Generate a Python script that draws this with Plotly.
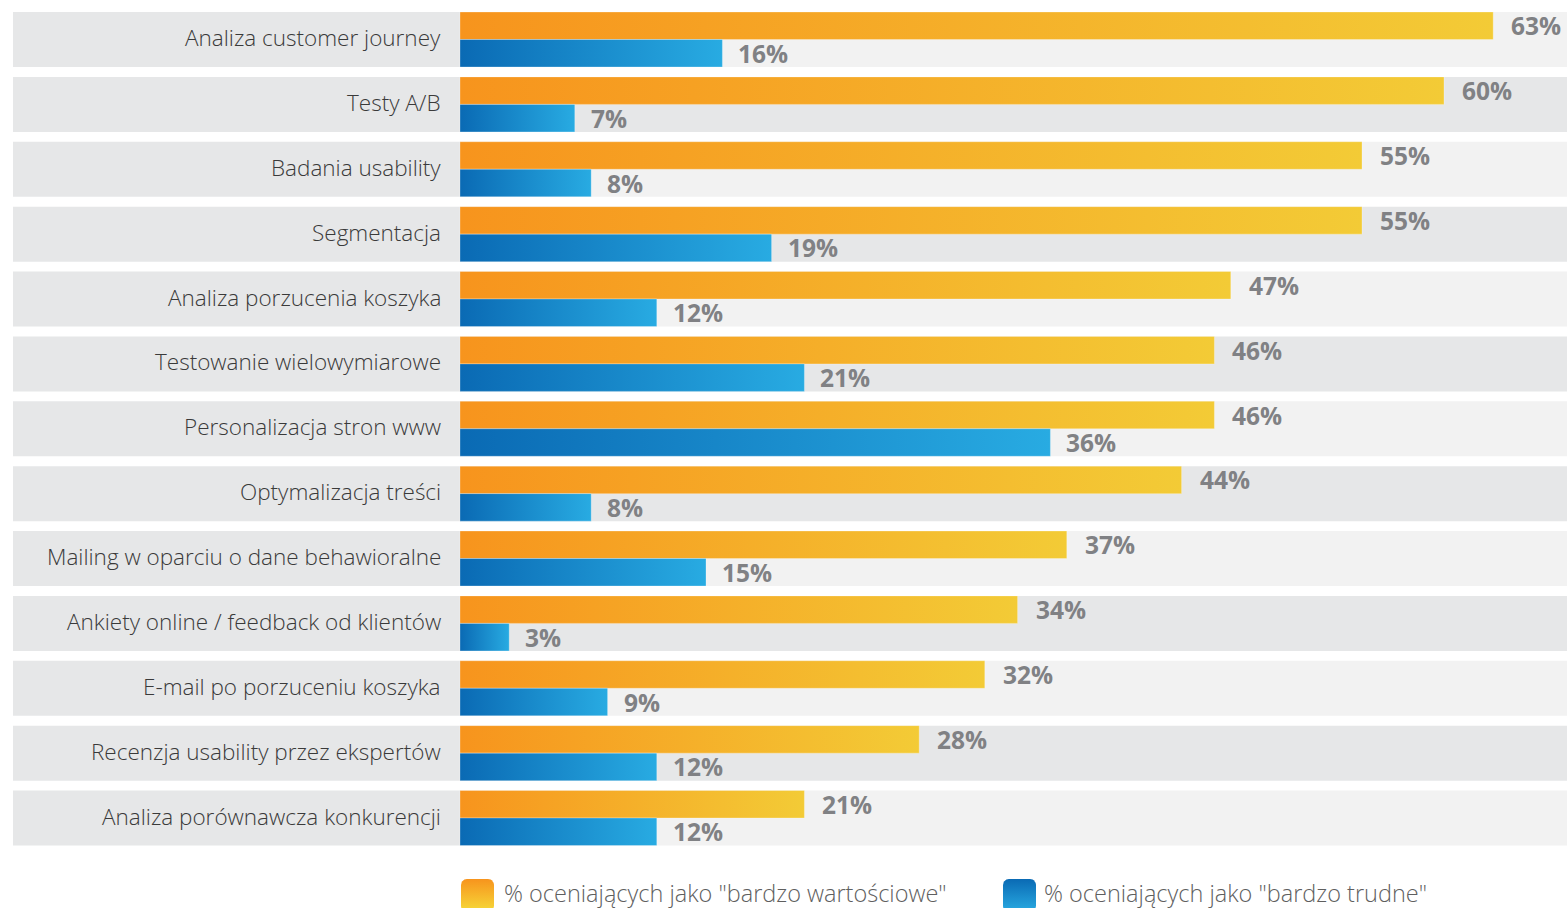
import numpy as np
import plotly.graph_objects as go

# ---- data -------------------------------------------------------------
categories = [
    "Analiza customer journey",
    "Testy A/B",
    "Badania usability",
    "Segmentacja",
    "Analiza porzucenia koszyka",
    "Testowanie wielowymiarowe",
    "Personalizacja stron www",
    "Optymalizacja treści",
    "Mailing w oparciu o dane behawioralne",
    "Ankiety online / feedback od klientów",
    "E-mail po porzuceniu koszyka",
    "Recenzja usability przez ekspertów",
    "Analiza porównawcza konkurencji",
]
very_valuable = [63, 60, 55, 55, 47, 46, 46, 44, 37, 34, 32, 28, 21]
very_difficult = [16, 7, 8, 19, 12, 21, 36, 8, 15, 3, 9, 12, 12]
series_names = [
    '% oceniających jako "bardzo wartościowe"',
    '% oceniających jako "bardzo trudne"',
]

# ---- styling ----------------------------------------------------------
W, H = 1567, 908
LEFT = 13                      # left edge of the row bands (px)
ZERO_PX = 460                  # pixel where the value axis starts
PX_PER_PCT = 16.4
ROW_PX = 64.875
FIRST_ROW_PX = 39.5
HALF = 27.5 / ROW_PX           # half band height in row units

X0 = -(ZERO_PX - LEFT) / PX_PER_PCT
X1 = X0 + (W - LEFT) / PX_PER_PCT
Y_TOP = -FIRST_ROW_PX / ROW_PX
Y_BOT = Y_TOP + H / ROW_PX

ORANGE_SCALE = [[0, "#F7941D"], [1, "#F3CB36"]]
BLUE_SCALE = [[0, "#0A6AB4"], [1, "#28ABE2"]]
LABEL_FONT = dict(family="Open Sans", size=22.5, color="#3A3A3A", weight=300)
VALUE_FONT = dict(family="Open Sans", size=24.5, color="#808184", weight="bold")
LEGEND_FONT = dict(family="Open Sans", size=23.5, color="#5F5F5F", weight=300)

fig = go.Figure()
shapes, annotations = [], []

for i, cat in enumerate(categories):
    # background bands: label part + value part (alternating shade)
    shapes.append(dict(type="rect", xref="x", yref="y", layer="below",
                       x0=X0, x1=0, y0=i - HALF, y1=i + HALF,
                       fillcolor="#E6E7E8", line=dict(width=0)))
    shapes.append(dict(type="rect", xref="x", yref="y", layer="below",
                       x0=0, x1=X1, y0=i - HALF, y1=i + HALF,
                       fillcolor="#F2F2F2" if i % 2 == 0 else "#E6E7E8",
                       line=dict(width=0)))
    annotations.append(dict(x=0, y=i, xref="x", yref="y", text=cat,
                            xanchor="right", yanchor="middle", xshift=-17,
                            yshift=2, showarrow=False, font=LABEL_FONT))

    # gradient bars, drawn as filled polygons on the data axes
    for val, y0, y1, scale, gap in (
        (very_valuable[i], i - HALF, i, ORANGE_SCALE, 16),
        (very_difficult[i], i, i + HALF, BLUE_SCALE, 14),
    ):
        fig.add_trace(go.Scatter(
            x=[0, val, val, 0, 0], y=[y0, y0, y1, y1, y0],
            mode="lines", fill="toself",
            fillgradient=dict(type="horizontal", colorscale=scale),
            line=dict(width=0.8, color="rgba(255,255,255,0.35)"),
            hoverinfo="skip", showlegend=False,
        ))
        annotations.append(dict(x=val, y=(y0 + y1) / 2, xref="x", yref="y",
                                text=f"{val}%", xanchor="left",
                                yanchor="middle", xshift=gap,
                                showarrow=False, font=VALUE_FONT))


# ---- legend (pixel-space overlay axes) --------------------------------
def rounded_square(x, y, size, r, n=8):
    pts = []
    corners = [(x + size - r, y + r, -90, 0), (x + size - r, y + size - r, 0, 90),
               (x + r, y + size - r, 90, 180), (x + r, y + r, 180, 270)]
    for cx, cy, a0, a1 in corners:
        a = np.radians(np.linspace(a0, a1, n))
        pts += list(zip(cx + r * np.cos(a), cy + r * np.sin(a)))
    pts.append(pts[0])
    xs, ys = zip(*pts)
    return list(xs), list(ys)


legend_items = [
    (461, 502, [[0, "#F6DA3A"], [1, "#F7941D"]], series_names[0]),
    (1003, 1042, [[0, "#29ABE2"], [1, "#0A6AB4"]], series_names[1]),
]
for sx, tx, scale, name in legend_items:
    xs, ys = rounded_square(sx, 879, 33, 6)
    fig.add_trace(go.Scatter(
        x=xs, y=ys, xaxis="x2", yaxis="y2", mode="lines", fill="toself",
        fillgradient=dict(type="vertical", colorscale=scale),
        line=dict(width=0), hoverinfo="skip", showlegend=False,
    ))
    annotations.append(dict(x=tx, y=893, xref="x2", yref="y2", text=name,
                            xanchor="left", yanchor="middle",
                            showarrow=False, font=LEGEND_FONT))

fig.update_layout(
    width=W, height=H, autosize=False,
    margin=dict(l=LEFT, r=0, t=0, b=0, pad=0),
    paper_bgcolor="white", plot_bgcolor="white",
    showlegend=False,
    xaxis=dict(range=[X0, X1], visible=False, fixedrange=True),
    yaxis=dict(range=[Y_BOT, Y_TOP], visible=False, fixedrange=True),
    xaxis2=dict(range=[LEFT, W], overlaying="x", visible=False, fixedrange=True),
    yaxis2=dict(range=[H, 0], overlaying="y", visible=False, fixedrange=True),
    shapes=shapes, annotations=annotations,
)

fig.write_html("out.html", config={"displayModeBar": False})
